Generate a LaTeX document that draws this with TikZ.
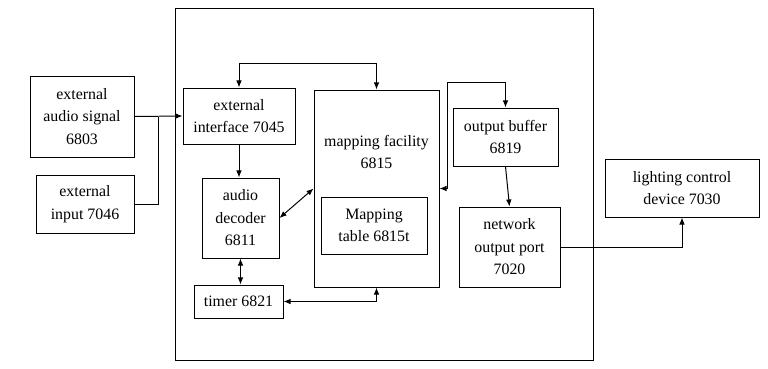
\documentclass[tikz,border=0pt]{standalone}
\usepackage{fontspec}
\setmainfont{Liberation Serif}
\usetikzlibrary{arrows.meta,calc}

\tikzset{
  blk/.style 2 args={draw, align=center, inner sep=0pt,
    minimum width=#1*0.025cm, minimum height=#2*0.025cm},
  link/.style={line width=0.7pt, >={Latex[length=5pt,width=4pt]}}
}

\begin{document}
\begin{tikzpicture}[x=0.025cm, y=-0.025cm, line width=0.7pt,
  font=\fontsize{11.3}{16}\selectfont]
  \useasboundingbox (0,0) rectangle (768,368);
  % Outer system box
  \draw (175,8) rectangle (593,360);
  % Outside sources and sink
  \node[blk={104}{81}] (sig) at (82,116.5) {external\\audio signal\\6803};
  \node[blk={98}{58}] (inp) at (85,204) {external\\input 7046};
  \node[blk={154}{58}] (light) at (682,188) {lighting control\\device 7030};
  % Blocks inside the system
  \node[blk={112}{56}] (iface) at (239,116) {external\\interface 7045};
  \node[blk={77}{80}] (dec) at (240.5,218) {audio\\decoder\\6811};
  \node[blk={89}{33}] (timer) at (238.5,301.5) {timer 6821};
  \node[blk={125}{197}] (map) at (376.5,188.5) {};
  \node[align=center] (maptxt) at (376.5,152) {mapping facility\\6815};
  \node[blk={106}{57}] (tbl) at (374,225.5) {Mapping\\table 6815t};
  \node[blk={105}{58}] (buf) at (505.5,137) {output buffer\\6819};
  \node[blk={101}{80}] (port) at (509.5,247) {network\\output port\\7020};
  % Connectors
  \coordinate (join) at (158,117);
  \draw[link,->] (sig.east) -- (iface.west);
  \draw[link] (inp.east) -| (join);
  \draw[link,<->] (iface.north) -- ++(0,-24) -| (map.north);
  \draw[link,->] (iface.south) -- (iface.south |- dec.north);
  \draw[link,<->] (dec.east) -- (map.west);
  \draw[link,<->] (dec.south) -- (dec.south |- timer.north);
  \draw[link,<->] (timer.east) -| (map.south);
  \draw[link,<->] (map.east) -- ++(8,0) |- ($(buf.north)+(0,-25)$) -- (buf.north);
  \draw[link,->] (buf.south) -- (port.north);
  \draw[link,->] (port.east) -| (light.south);
\end{tikzpicture}
\end{document}
